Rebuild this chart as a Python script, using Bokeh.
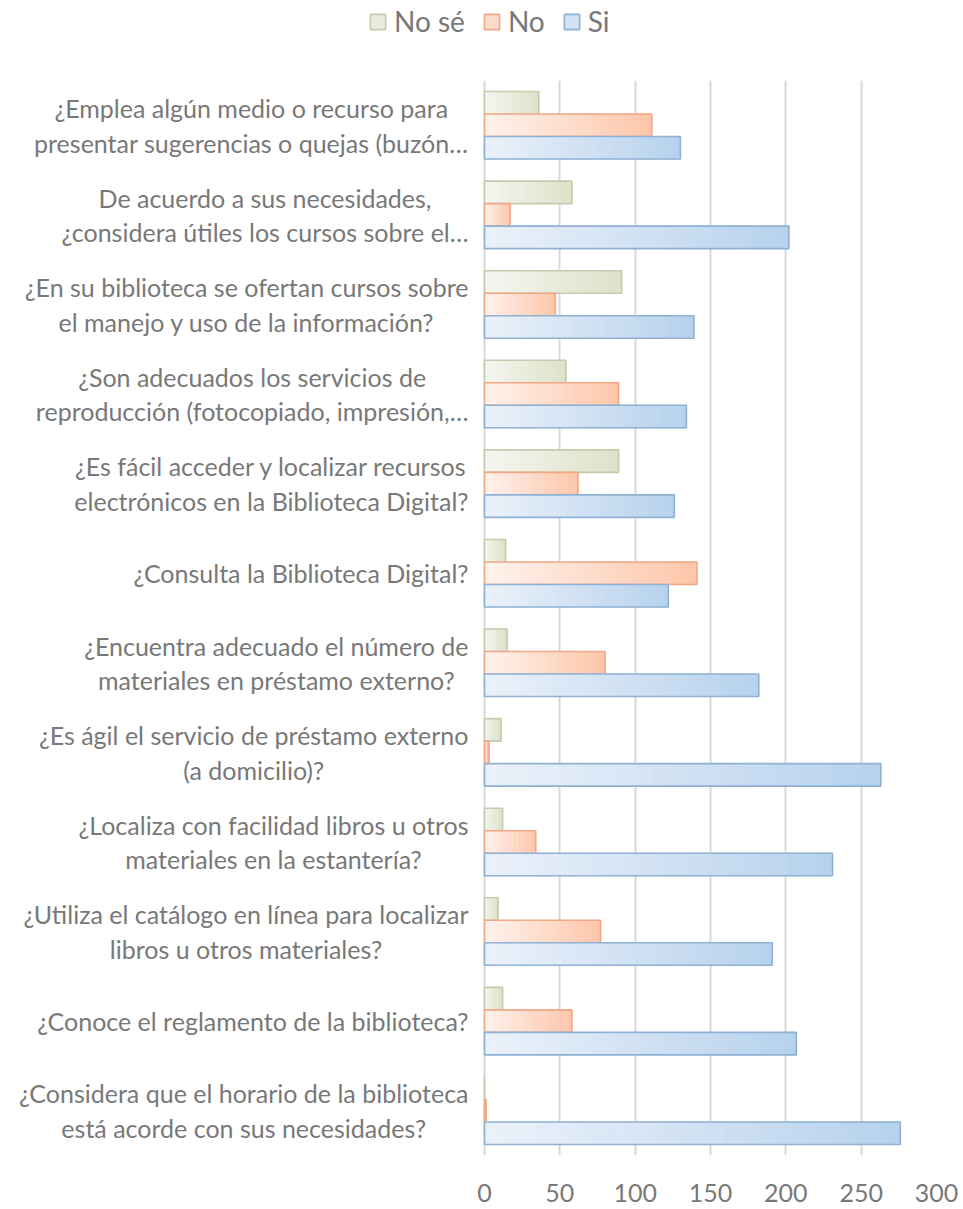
from bokeh.plotting import figure
from bokeh.layouts import column
from bokeh.models import ColumnDataSource, Range1d, FactorRange, FixedTicker, Legend, LegendItem
from bokeh.transform import dodge
from bokeh.core.properties import value
from bokeh.embed import file_html
from bokeh.resources import INLINE

categories = [
    "¿Emplea algún medio o recurso para\npresentar sugerencias o quejas (buzón…",
    "De acuerdo a sus necesidades,\n¿considera útiles los cursos sobre el…",
    "¿En su biblioteca se ofertan cursos sobre\nel manejo y uso de la información?",
    "¿Son adecuados los servicios de\nreproducción (fotocopiado, impresión,…",
    "¿Es fácil acceder y localizar recursos\nelectrónicos en la Biblioteca Digital?",
    "¿Consulta la Biblioteca Digital?",
    "¿Encuentra adecuado el número de\nmateriales en préstamo externo?",
    "¿Es ágil el servicio de préstamo externo\n(a domicilio)?",
    "¿Localiza con facilidad libros u otros\nmateriales en la estantería?",
    "¿Utiliza el catálogo en línea para localizar\nlibros u otros materiales?",
    "¿Conoce el reglamento de la biblioteca?",
    "¿Considera que el horario de la biblioteca\nestá acorde con sus necesidades?",
]
no_se = [36, 58, 91, 54, 89, 14, 15, 11, 12, 9, 12, 0]
no = [111, 17, 47, 89, 62, 141, 80, 3, 34, 77, 58, 1]
si = [130, 202, 139, 134, 126, 122, 182, 263, 231, 191, 207, 276]
series_names = ["No sé", "No", "Si"]
x_ticks = [0, 50, 100, 150, 200, 250, 300]

# styles: (gradient start, gradient end, border)
styles = [
    ("#f5f6f0", "#dde2c9", "#c6cbad"),
    ("#fff2ec", "#fec6aa", "#f0a988"),
    ("#ebf1fa", "#b7d2ed", "#8fb1d3"),
]
offsets = [0.251, 0.0, -0.251]
BAR_H = 0.251
N_SEG = 40
FONT = "Lato"
TXT = "#787878"

W = 963
LEG_FIG_H = 80
H = 1209 - LEG_FIG_H
TOP, FRAME_H = 0, 1075
RIGHT = 27
frame_w = W - RIGHT
zero_px = 484
px_per_unit = (frame_w - zero_px) / 300.0
x_start = -zero_px / px_per_unit

p = figure(width=W, height=H, output_backend="svg", toolbar_location=None,
           y_range=FactorRange(factors=categories[::-1], range_padding=0),
           x_range=Range1d(x_start, 300), y_axis_location=None,
           min_border_left=0, min_border_right=RIGHT, min_border_top=TOP,
           min_border_bottom=H - TOP - FRAME_H)
p.outline_line_color = None
p.background_fill_color = "white"
p.ygrid.visible = False
p.xgrid.grid_line_color = "#d9d9d9"
p.xgrid.grid_line_width = 2
p.xaxis.ticker = FixedTicker(ticks=x_ticks)
p.xaxis.axis_line_color = None
p.xaxis.major_tick_line_color = None
p.xaxis.minor_tick_line_color = None
p.xaxis.major_label_standoff = 22
p.xaxis.major_label_text_font = FONT
p.xaxis.major_label_text_font_size = "25px"
p.xaxis.major_label_text_color = TXT


def hex2rgb(h):
    h = h.lstrip("#")
    return tuple(int(h[i:i + 2], 16) for i in (0, 2, 4))


def mix(c0, c1, t):
    a, b = hex2rgb(c0), hex2rgb(c1)
    return "#%02x%02x%02x" % tuple(round(a[i] + (b[i] - a[i]) * t) for i in range(3))


# legend figure on top
lf = figure(width=W, height=LEG_FIG_H, output_backend="svg", toolbar_location=None,
            x_range=Range1d(0, 1), y_range=Range1d(0, 1),
            x_axis_location=None, y_axis_location=None, min_border=0)
lf.outline_line_color = None
lf.xgrid.visible = False
lf.ygrid.visible = False

series_vals = [no_se, no, si]
legend_items = []
for name, vals, (c0, c1, cb), off in zip(series_names, series_vals, styles, offsets):
    ys, ls, rs, cs = [], [], [], []
    for cat, v in zip(categories, vals):
        for k in range(N_SEG):
            ys.append(cat)
            ls.append(v * k / N_SEG)
            rs.append(v * (k + 1) / N_SEG)
            cs.append(mix(c0, c1, k / (N_SEG - 1)))
    seg = ColumnDataSource(dict(y=ys, left=ls, right=rs, color=cs))
    p.hbar(y=dodge("y", off, range=p.y_range), left="left", right="right", height=BAR_H,
           fill_color="color", line_color="color", line_width=0.6, source=seg)
    bsrc = ColumnDataSource(dict(y=categories, v=vals))
    p.hbar(y=dodge("y", off, range=p.y_range), left=0, right="v", height=BAR_H,
           fill_alpha=0, line_color=cb, line_width=1.6, source=bsrc)
    # legend-only swatch, kept outside the visible range of the legend figure
    dummy = lf.quad(left=[-5], right=[-4], bottom=[-5], top=[-4],
                    fill_color=mix(c0, c1, 0.5), line_color=cb, line_width=1.6)
    legend_items.append(LegendItem(label=name, renderers=[dummy]))

label_x = -(zero_px - 468) / px_per_unit
lab = ColumnDataSource(dict(y=categories, x=[label_x] * len(categories), text=categories))
p.text(x="x", y="y", text="text", source=lab, text_align="center", anchor="center_right",
       text_baseline="middle", text_font=value(FONT), text_font_size="25px",
       text_color=TXT, text_line_height=1.15)

LEG_H = 32
legend = Legend(items=legend_items, orientation="horizontal",
                location=(368, LEG_FIG_H - (22 - LEG_H / 2) - LEG_H),
                glyph_width=19, glyph_height=19, label_standoff=7, spacing=17,
                padding=0, margin=0, label_height=LEG_H,
                label_text_font=FONT, label_text_font_size="28px", label_text_color=TXT,
                background_fill_alpha=0, border_line_alpha=0)
lf.add_layout(legend, "center")

layout = column(lf, p, spacing=0)
open("out.html", "w").write(file_html(layout, INLINE))
